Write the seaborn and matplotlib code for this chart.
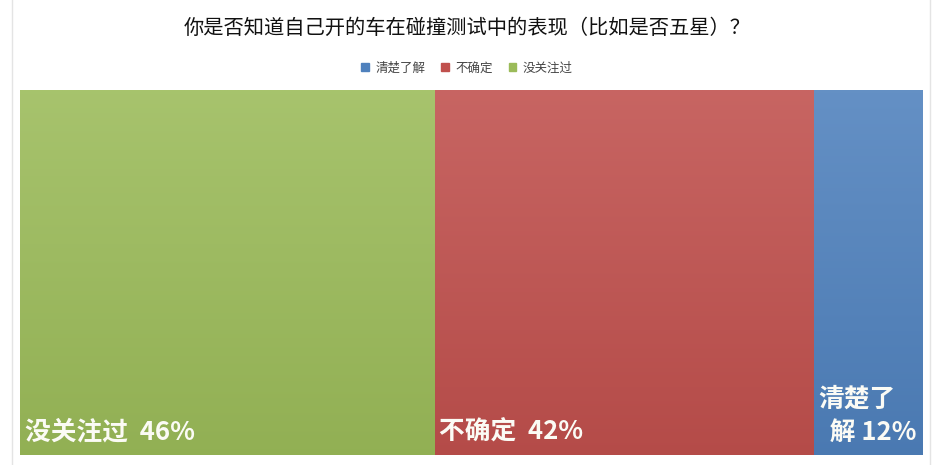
import matplotlib
matplotlib.use("Agg")
import matplotlib.pyplot as plt
import matplotlib.colors as mcolors
import numpy as np
import seaborn as sns
from matplotlib.patches import Rectangle

sns.set_theme(style="white")
plt.rcParams['font.family'] = ['Noto Sans CJK SC', 'DejaVu Sans']

title = "你是否知道自己开的车在碰撞测试中的表现（比如是否五星）？"
categories = ["没关注过", "不确定", "清楚了解"]
values = [46, 42, 12]
labels = ["没关注过  46%", "不确定  42%", "清楚了\n  解 12%"]
colors = ["#9BBB59", "#C0504D", "#4F81BD"]
legend_order = ["清楚了解", "不确定", "没关注过"]

fig = plt.figure(figsize=(9.34, 4.65), dpi=100)
ax = fig.add_axes([20/934, 10/465, 902/934, 365/465])

lefts = np.concatenate([[0], np.cumsum(values)[:-1]])
bars = ax.bar(lefts, [1]*len(values), width=values, align="edge",
              color=colors, edgecolor="white", linewidth=1.2)

# subtle vertical gradient (lighter at top)
for bar, c in zip(bars, colors):
    rgb = np.array(mcolors.to_rgb(c))
    top = rgb + (1 - rgb) * 0.12
    bot = rgb * 0.94
    grad = np.linspace(0, 1, 256)[:, None]
    img = top[None, None, :] * (1 - grad[..., None]) + bot[None, None, :] * grad[..., None]
    img = np.repeat(img, 2, axis=1)
    x0, w = bar.get_x(), bar.get_width()
    im = ax.imshow(img, extent=[x0, x0 + w, 0, 1], aspect="auto", zorder=2, origin="upper")
    im.set_clip_path(bar)

for x0, lab, v in zip(lefts, labels, values):
    ax.text(x0 + 0.5, 0.025, lab, color="#fbfbf5", fontsize=18.5, fontweight="bold",
            ha="left", va="bottom", zorder=3, linespacing=1.3)

ax.set_xlim(0, 100)
ax.set_ylim(0, 1)
ax.set_xticks([])
ax.set_yticks([])
for s in ax.spines.values():
    s.set_visible(False)

fig.text(0.5, 1 - 28/465, title, ha="center", va="center", fontsize=14.6,
         fontweight="medium", color="#111111")

handles = [Rectangle((0, 0), 1, 1, color=colors[categories.index(n)]) for n in legend_order]
fig.legend(handles, legend_order, loc="center", bbox_to_anchor=(0.5, 1 - 68/465),
           ncol=3, frameon=False, fontsize=9, handlelength=0.6, handleheight=0.6,
           columnspacing=1.3, handletextpad=0.5, labelcolor="#444444")

# faint outer frame
fig.patches.append(Rectangle((12/934, -0.01), 918/934, 1.1, transform=fig.transFigure,
                             fill=False, edgecolor="#e4e4e4", linewidth=1))

fig.savefig("out.png", dpi=100)
